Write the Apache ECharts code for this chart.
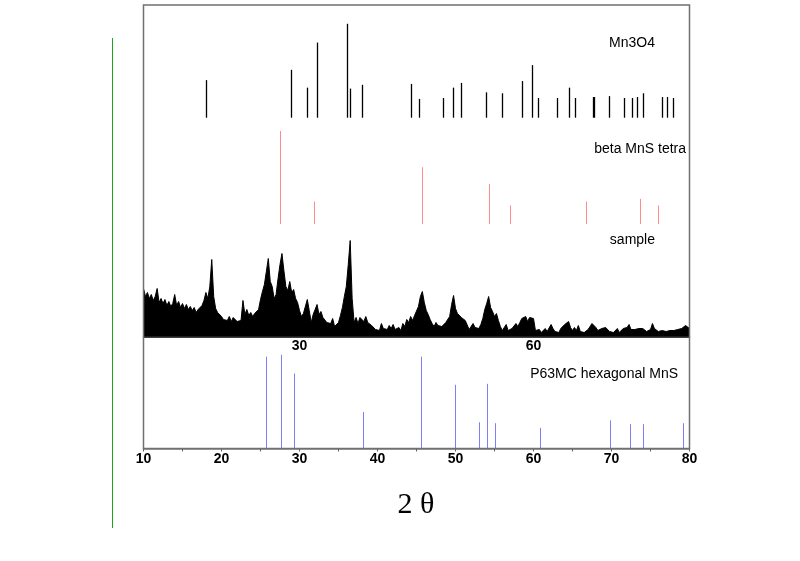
<!DOCTYPE html>
<html>
<head>
<meta charset="utf-8">
<title>XRD</title>
<script src="https://cdn.jsdelivr.net/npm/echarts@6/dist/echarts.min.js"></script>
<style>
  html, body { margin: 0; padding: 0; background: #ffffff; }
  #main { width: 800px; height: 561px; }
</style>
</head>
<body>
<div id="main"></div>
<script>
// reference sticks: [2theta, relative intensity]
var mn3o4Peaks = [
  [17.97, 40], [28.91, 51], [30.92, 32], [32.24, 80], [36.05, 100], [36.43, 31],
  [37.97, 35], [44.34, 36], [45.37, 20], [48.36, 21], [49.72, 32], [50.71, 37],
  [53.91, 27], [56.0, 26], [58.53, 39], [59.77, 56], [60.62, 21], [62.97, 21],
  [64.59, 32], [65.32, 21], [67.59, 22], [67.8, 22], [69.64, 23], [71.64, 21],
  [72.67, 21], [73.31, 22], [74.08, 26], [76.43, 22], [77.07, 22], [77.92, 21]
];
var betaMnsPeaks = [
  [27.54, 100], [31.9, 24], [45.75, 61], [54.3, 43], [56.95, 20],
  [66.77, 24], [73.7, 27], [76.0, 20]
];
var hexMnsPeaks = [
  [25.74, 98], [27.63, 100], [29.33, 80], [38.14, 39], [45.53, 98], [49.94, 68],
  [53.06, 28], [54.08, 69], [55.1, 27], [60.79, 22], [69.77, 30], [72.42, 26],
  [74.08, 26], [79.2, 27]
];

// measured pattern, 10 to 80 deg, step 0.25 deg
var sampleStart = 10;
var sampleStep = 0.25;
var sampleCounts = [
  48, 40, 44, 38, 42, 36, 40, 48, 34, 38, 33, 37, 31, 35, 30, 33, 42, 31, 35, 29,
  33, 28, 32, 27, 30, 26, 29, 24, 27, 25, 31, 36, 44, 38, 50, 77, 40, 28, 24, 22,
  20, 17, 19, 16, 20, 15, 19, 17, 15, 13, 16, 36, 22, 27, 21, 24, 20, 23, 21, 27,
  37, 45, 52, 65, 78, 55, 50, 38, 42, 58, 72, 83, 66, 50, 46, 55, 44, 47, 38, 34,
  26, 20, 23, 30, 37, 26, 14, 22, 27, 32, 22, 25, 19, 17, 14, 16, 13, 18, 10, 12,
  14, 21, 29, 40, 50, 72, 96, 38, 14, 19, 13, 19, 20, 15, 20, 14, 16, 11, 12, 7,
  9, 6, 13, 8, 10, 7, 11, 8, 12, 7, 5, 9, 6, 13, 10, 17, 14, 20, 16, 21,
  23, 30, 40, 45, 34, 26, 22, 17, 13, 10, 14, 11, 13, 10, 12, 14, 13, 20, 32, 41,
  28, 23, 24, 19, 21, 16, 14, 7, 10, 13, 9, 11, 8, 12, 18, 27, 33, 40, 29, 25,
  20, 23, 16, 10, 6, 8, 12, 6, 5, 8, 6, 13, 10, 14, 18, 16, 20, 15, 19, 21,
  18, 6, 5, 7, 4, 6, 8, 5, 7, 12, 8, 5, 7, 4, 8, 6, 12, 10, 15, 9,
  6, 9, 6, 11, 5, 3, 4, 5, 7, 10, 13, 12, 9, 6, 5, 8, 6, 9, 7, 5,
  6, 4, 5, 8, 4, 5, 8, 6, 9, 12, 7, 5, 7, 5, 8, 6, 8, 10, 5, 4,
  7, 13, 8, 6, 5, 4, 6, 5, 5, 7, 6, 8, 6, 8, 7, 9, 8, 10, 11, 9,
  8
];

var bottomTicks = [10, 20, 30, 40, 50, 60, 70, 80];
var middleTicks = [30, 60];

var sampleData = sampleCounts.map(function (v, i) {
  return [sampleStart + i * sampleStep, v];
});

var chart = echarts.init(document.getElementById('main'));

function stickItem(params, api) {
  var top = api.coord([api.value(0), api.value(1)]);
  var base = api.coord([api.value(0), 0]);
  return {
    type: 'line',
    shape: { x1: Math.round(top[0]) + 0.5, y1: top[1], x2: Math.round(base[0]) + 0.5, y2: base[1] },
    style: { stroke: api.visual('color'), lineWidth: params.seriesIndex === 0 ? 1.3 : 1 }
  };
}

var L = 143.5, R = 110.5;

function hiddenX(i) {
  return { gridIndex: i, type: 'value', min: 10, max: 80, show: false };
}
function hiddenY(i, max) {
  return { gridIndex: i, type: 'value', min: 0, max: max, show: false };
}

var option = {
  backgroundColor: '#ffffff',
  animation: false,
  grid: [
    { left: L, right: R, top: 5, height: 112.7 },
    { left: L, right: R, top: 131, height: 93 },
    { left: L, right: R, top: 236.5, height: 100 },
    { left: L, right: R, top: 337, height: 111.5 }
  ],
  xAxis: [
    hiddenX(0),
    hiddenX(1),
    {
      gridIndex: 2, type: 'value', min: 10, max: 80,
      splitLine: { show: false },
      axisLine: { lineStyle: { color: '#000000', width: 1.5 } },
      axisTick: { show: false },
      axisLabel: {
        customValues: middleTicks,
        margin: 3,
        color: '#000000',
        fontSize: 14,
        fontWeight: 'bold',
        fontFamily: 'Liberation Sans, Arial, sans-serif'
      }
    },
    {
      gridIndex: 3, type: 'value', min: 10, max: 80, interval: 10,
      splitLine: { show: false },
      axisLine: { lineStyle: { color: '#808080', width: 1.5 } },
      axisTick: { show: true, length: 3, lineStyle: { color: '#606060' } },
      minorTick: { show: true, splitNumber: 2, length: 3, lineStyle: { color: '#606060' } },
      axisLabel: {
        customValues: bottomTicks,
        margin: 4,
        color: '#000000',
        fontSize: 14,
        fontWeight: 'bold',
        fontFamily: 'Liberation Sans, Arial, sans-serif'
      }
    }
  ],
  yAxis: [hiddenY(0, 120), hiddenY(1, 100), hiddenY(2, 100), hiddenY(3, 119)],
  series: [
    {
      name: 'Mn3O4', type: 'custom', xAxisIndex: 0, yAxisIndex: 0,
      renderItem: stickItem, itemStyle: { color: '#000000' }, data: mn3o4Peaks
    },
    {
      name: 'beta MnS tetra', type: 'custom', xAxisIndex: 1, yAxisIndex: 1,
      renderItem: stickItem, itemStyle: { color: '#ff8c8c' }, data: betaMnsPeaks
    },
    {
      name: 'sample', type: 'line', xAxisIndex: 2, yAxisIndex: 2,
      showSymbol: false, symbol: 'none',
      lineStyle: { color: '#000000', width: 1 },
      areaStyle: { color: '#000000', opacity: 1 },
      data: sampleData
    },
    {
      name: 'P63MC hexagonal MnS', type: 'custom', xAxisIndex: 3, yAxisIndex: 3,
      renderItem: stickItem, itemStyle: { color: '#7f7ff5' }, data: hexMnsPeaks
    }
  ],
  graphic: [
    {
      type: 'rect', silent: true, z: 10,
      shape: { x: 143.5, y: 5, width: 546, height: 443.5 },
      style: { fill: null, stroke: '#707070', lineWidth: 1.5 }
    },
    {
      type: 'line', silent: true,
      shape: { x1: 112.5, y1: 38, x2: 112.5, y2: 528 },
      style: { stroke: '#1aa51a', lineWidth: 1 }
    },
    {
      type: 'text', x: 655, y: 43,
      style: { text: 'Mn3O4', align: 'right', verticalAlign: 'middle', fill: '#000000', font: '14px "Liberation Sans", Arial, sans-serif' }
    },
    {
      type: 'text', x: 686, y: 149,
      style: { text: 'beta MnS tetra', align: 'right', verticalAlign: 'middle', fill: '#000000', font: '14px "Liberation Sans", Arial, sans-serif' }
    },
    {
      type: 'text', x: 655, y: 240,
      style: { text: 'sample', align: 'right', verticalAlign: 'middle', fill: '#000000', font: '14px "Liberation Sans", Arial, sans-serif' }
    },
    {
      type: 'text', x: 678, y: 374,
      style: { text: 'P63MC hexagonal MnS', align: 'right', verticalAlign: 'middle', fill: '#000000', font: '14px "Liberation Sans", Arial, sans-serif' }
    },
    {
      type: 'text', x: 416, y: 505,
      style: { text: '2 θ', align: 'center', verticalAlign: 'middle', fill: '#000000', font: '30px "Liberation Serif", "DejaVu Serif", serif' }
    }
  ]
};

chart.setOption(option);
</script>
</body>
</html>
